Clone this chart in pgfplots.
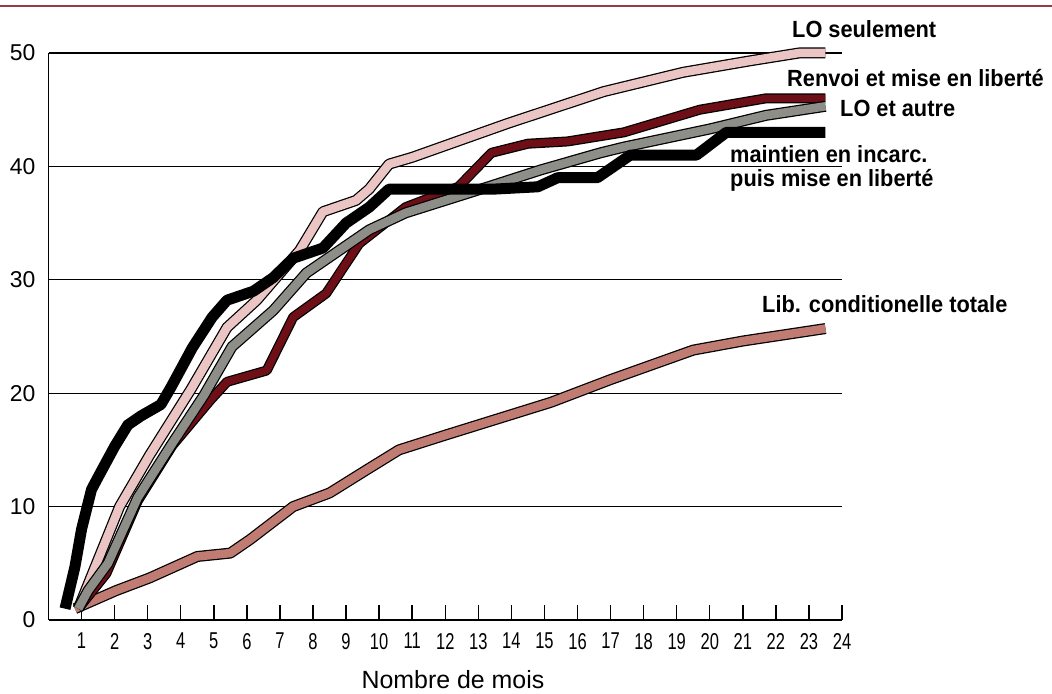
\documentclass[border=0pt]{standalone}
\usepackage{pgfplots}
\pgfplotsset{compat=1.18}
\usepackage{pgfplotstable}
\usepackage{fontspec}
\setmainfont{Liberation Sans}
\newfontfamily\narrowfont[FakeStretch=0.72]{Liberation Sans}
\newfontfamily\labfont[FakeStretch=0.93]{Liberation Sans}
\definecolor{cpink}{HTML}{EBC5C3}
\definecolor{cmaroon}{HTML}{6E0F18}
\definecolor{cgray}{HTML}{8E8E89}
\definecolor{crosy}{HTML}{C07C72}
\definecolor{cred}{HTML}{9A3A46}

\pgfplotstableread{
x y
0.9 1
2.15 10
3.05 14.5
4.3 20.3
5.4 25.8
6.3 28.2
7.6 32.6
8.3 36
9.3 37
9.7 38
10.3 40.2
11 40.8
13.9 43.8
16.8 46.6
19.2 48.3
21.2 49.3
22.7 50
23.5 50
}\tpink

\pgfplotstableread{
x y
0.9 1
1.75 4.1
2.7 10.5
3.75 15.4
4.9 19.4
5.4 21
6.6 22
7.4 26.7
8.4 28.8
9.4 33.2
10.8 36.4
12.4 38.2
13.4 41.2
14.5 42
15.7 42.2
17.4 43
19.7 45
21.7 46
23.5 46
}\tmaroon

\pgfplotstableread{
x y
0.9 1
1.2 2.6
1.8 5
2.7 10.8
3.75 15.6
4.7 19.8
5.55 24.1
6.8 27.3
7.8 30.6
8.8 32.6
9.7 34.4
10.8 35.9
13.3 38.2
14.9 39.7
16.7 41.2
17.4 41.7
20 43.3
21.7 44.5
23.5 45.3
}\tgray

\pgfplotstableread{
x y
0.5 1
0.8 4.7
1.0 8
1.3 11.5
1.5 12.6
2 15.3
2.4 17.2
2.8 18
3.4 19
3.7 20.5
4.35 24
4.95 26.7
5.4 28.2
6.2 29
6.8 30.2
7.4 31.9
8.3 32.8
9 35
9.7 36.4
10.3 38
13.5 38
14.8 38.2
15.4 39
16.6 39
17.4 40.6
17.6 41
19.6 41
20.5 43
23.5 43
}\tblack

\pgfplotstableread{
x y
0.8 1
2.05 2.6
3.05 3.7
4.5 5.6
5.5 5.9
6.1 7.1
7.4 10
8.5 11.2
9.6 13.2
10.6 15
12 16.3
15.2 19.2
17 21.2
19.5 23.8
21 24.6
23.5 25.7
}\trosy

\begin{document}
\begin{tikzpicture}[x=1bp,y=1bp]
\path[use as bounding box] (0,0) rectangle (1052,694);
\draw[cred, line width=2bp] (0,688) -- (1052,688);
\begin{axis}[
  at={(48.5bp,74bp)}, anchor=south west,
  scale only axis, width=793.5bp, height=567bp,
  xmin=0, xmax=24, ymin=0, ymax=50,
  axis x line*=bottom, axis y line*=left,
  axis line style={line width=1.6bp, black},
  xtick={1,...,24}, ytick={0,10,...,50},
  tick align=inside, major tick length=15bp,
  xtick style={line width=1.4bp, black},
  ytick style={draw=none},
  ymajorgrids, grid style={line width=1.3bp, black},
  /pgf/number format/assume math mode=true,
  xticklabel style={font=\narrowfont\fontsize{23}{23}\selectfont, inner sep=0pt, yshift=-13bp},
  yticklabel style={font=\fontsize{23}{23}\selectfont, inner sep=0pt, xshift=-13bp},
  clip=false,
  every axis plot/.append style={line join=round},
]
\addplot[black, line width=11bp, forget plot] table {\trosy};
\addplot[crosy, line width=8.5bp] table {\trosy};
\addplot[black, line width=11bp, forget plot] table {\tpink};
\addplot[cpink, line width=8.5bp] table {\tpink};
\addplot[black, line width=10bp, forget plot] table {\tmaroon};
\addplot[cmaroon, line width=7.5bp] table {\tmaroon};
\addplot[black, line width=11bp, forget plot] table {\tgray};
\addplot[cgray, line width=8.5bp] table {\tgray};
\addplot[black, line width=11bp] table {\tblack};
\end{axis}
\begin{scope}[every node/.style={inner sep=0pt, anchor=base west, font=\labfont\bfseries\fontsize{23.5}{23.5}\selectfont}]
\node at (792,656) {LO seulement};
\node at (787,607) {Renvoi et mise en liberté};
\node at (840,577) {LO et autre};
\node at (730,531) {maintien en incarc.};
\node at (730,507) {puis mise en liberté};
\node at (762,381) {Lib. conditionelle totale};
\end{scope}
\node[inner sep=0pt, anchor=base, font=\fontsize{25}{25}\selectfont] at (453,5) {Nombre de mois};
\end{tikzpicture}
\end{document}
